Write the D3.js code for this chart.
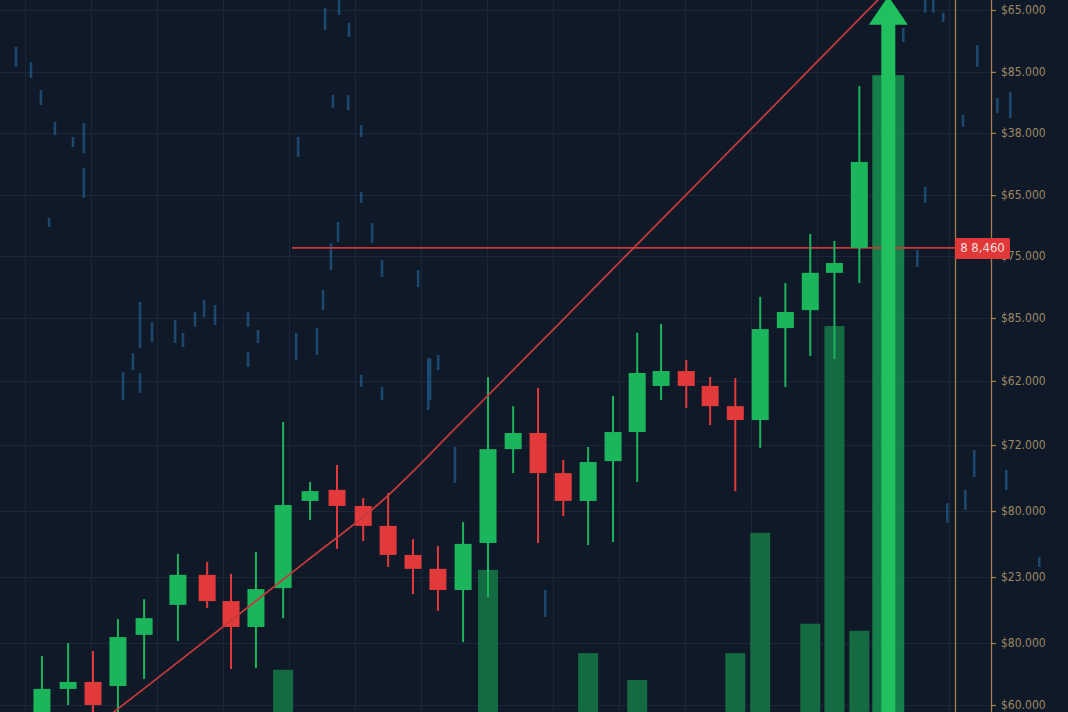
<!DOCTYPE html>
<html><head><meta charset="utf-8">
<script src="https://cdn.jsdelivr.net/npm/d3@7"></script>
<style>html,body{margin:0;padding:0;background:#0f1929;overflow:hidden}</style>
</head><body><svg id="c" width="1068" height="712"></svg>
<script>
// ---- data ----
const candleTime = [-0.37,0.66,1.64,2.62,3.65,4.98,6.13,7.07,8.05,9.12,10.18,11.24,12.27,13.25,14.23,15.21,16.20,17.18,18.17,19.15,20.14,21.12,22.10,23.05,23.99,24.98,25.92,26.91,27.89,28.88,29.86,30.81,31.79];
const open  = [59650,60510,60730,60600,62220,63170,64120,63290,62470,63700,66460,66810,66300,65670,64750,64310,63640,65130,68100,68610,67340,66460,67720,68640,70100,70570,70100,69460,69020,71930,72500,73680,74470];
const high  = [61550,61960,61710,62720,63350,64780,64530,64150,64840,68960,67060,67600,66550,66710,65250,65030,65790,70380,69460,70040,67760,68170,69780,71780,72060,70920,70380,70350,72920,73360,74910,74690,79590];
const low   = [59460,60000,59720,59720,60820,62030,63070,61140,61170,62750,65860,64940,65190,64370,63510,62980,61990,63420,67340,65130,65980,65060,65160,67060,69650,69400,68860,66770,68140,70070,71050,70950,73360];
const close = [60510,60730,60000,62150,62750,64120,63290,62470,63670,66330,66770,66300,65670,64750,64310,63640,65100,68100,68610,67340,66460,67690,68640,70510,70570,70100,69460,69020,71900,72440,73680,73990,77190];
const volume = [0,0,0,0,0,0,0,0,0,66,0,0,0,0,0,0,0,222,0,0,0,92,0,50,0,0,0,92,280,0,138,603,127];

const breakoutTime = 32.93;
const breakoutVolume = 995;
const breakoutArrowTop = 82440;
const breakoutHeadBase = 81530;

const trendTime  = [2,4,8,10,13,16,20,24,28,32,33];
const trendPrice = [59490,60740,63260,64530,66450,68840,72090,75360,78620,81890,82710];

const resistancePrice = 74470;
const resistanceStart = 9.47;
const resistanceLabel = "8 8,460";

const tickValues = [82000,80040,78110,76140,74210,72250,70260,68230,66140,64050,61960,60000];
const tickLabels = ["$65.000","$85.000","$38.000","$65.000","$75.000","$85.000","$62.000","$72.000","$80.000","$23.000","$80.000","$60.000"];

// faint background marks: [time, high, low]
const ghostTime = [-1.39,-0.80,-0.41,0.14,0.85,1.28,1.28,-0.09,10.77,11.32,11.71,11.08,11.68,12.19,9.71,12.19,11.28,12.62,11.00,13.01,14.43,10.69,3.49,3.96,4.87,5.18,5.65,6.01,6.44,7.74,8.13,7.74,9.63,10.45,3.21,3.49,2.82,14.90,15.22,12.19,13.01,34.38,34.70,35.09,33.52,34.38,34.07,36.43,37.73,37.22,35.87,14.83,15.88,19.43,35.25,35.96,36.31,37.57,38.87];
const ghostHigh = [80830,80350,79470,78460,77980,78420,77000,75420,82060,82320,81590,79310,79310,78360,77980,76240,75290,75260,74620,74090,73770,73140,72760,72120,72190,71780,72440,72820,72660,72440,71870,71170,71780,71930,71140,70510,70540,70980,71080,70450,70070,82320,82320,81910,81430,76400,74400,80890,79400,79210,78680,70980,68170,63640,66390,66810,68070,67440,64680];
const ghostLow  = [80200,79850,78990,78040,77660,77470,76050,75130,81370,81840,81150,78900,78830,77980,77350,75890,74660,74620,73770,73550,73230,72500,71300,71490,71460,71330,71970,72280,72030,71970,71460,70700,70920,71080,70600,69880,69650,69650,70600,70070,69650,81910,81910,81620,80990,75890,73860,80200,78580,78740,78300,69340,67030,62790,65760,66170,67220,66810,64370];

// ---- layout ----
const W = 1068, H = 712;
const axisX1 = 955, axisX2 = 991;
const svg = d3.select("#c");
const x = d3.scaleLinear().domain([-2.02, 40]).range([0, W]);
const y = d3.scaleLinear().domain([60000, 82000]).range([705, 10]);
const yVol = d3.scaleLinear().domain([0, 1000]).range([H, 72]);

const GREEN = "#1bb65c", RED = "#e23a3a", VOL = "#167544";
const FONT = "'DejaVu Sans Condensed','DejaVu Sans',sans-serif";

const defs = svg.append("defs");
defs.append("filter").attr("id", "soft").append("feGaussianBlur").attr("stdDeviation", 0.7);

svg.append("rect").attr("width", W).attr("height", H).attr("fill", "#0f1928");

// grid
const grid = svg.append("g").attr("stroke", "#192739").attr("stroke-width", 1);
grid.selectAll("line.h").data(tickValues).join("line")
  .attr("x1", 0).attr("x2", axisX2).attr("y1", d => Math.round(y(d)) + 0.5).attr("y2", d => Math.round(y(d)) + 0.5);
grid.selectAll("line.v").data(d3.range(25, axisX1, 66)).join("line")
  .attr("x1", d => d + 0.5).attr("x2", d => d + 0.5).attr("y1", 0).attr("y2", H);

// ghost marks
svg.append("g").attr("stroke", "#2a6fa6").attr("stroke-width", 2.6).attr("opacity", 0.55).attr("filter", "url(#soft)")
  .selectAll("line").data(ghostTime.map((t, i) => ({t, h: ghostHigh[i], l: ghostLow[i]}))).join("line")
  .attr("x1", d => x(d.t)).attr("x2", d => x(d.t)).attr("y1", d => y(d.h)).attr("y2", d => y(d.l));

// candles data
const candles = candleTime.map((t, i) => ({t, o: open[i], h: high[i], l: low[i], c: close[i], v: volume[i]}));

// volume bars
const vw = 20;
svg.append("g").selectAll("rect").data(candles.filter(d => d.v > 0)).join("rect")
  .attr("x", d => x(d.t) - vw / 2).attr("width", vw)
  .attr("y", d => yVol(d.v)).attr("height", d => yVol(0) - yVol(d.v))
  .attr("fill", VOL).attr("opacity", 0.88);
const bw = 32;
svg.append("rect").attr("x", x(breakoutTime) - bw / 2).attr("width", bw)
  .attr("y", yVol(breakoutVolume)).attr("height", yVol(0) - yVol(breakoutVolume))
  .attr("fill", "#178a4c").attr("opacity", 0.9);

// resistance line
svg.append("line").attr("x1", x(resistanceStart)).attr("x2", axisX1)
  .attr("y1", y(resistancePrice)).attr("y2", y(resistancePrice))
  .attr("stroke", "#c9383a").attr("stroke-width", 1.6);

// candles
const cg = svg.append("g");
const cw = 17;
cg.selectAll("line").data(candles).join("line")
  .attr("x1", d => x(d.t)).attr("x2", d => x(d.t))
  .attr("y1", d => y(d.h)).attr("y2", d => y(d.l))
  .attr("stroke", d => d.c >= d.o ? GREEN : RED).attr("stroke-width", 2);
cg.selectAll("rect").data(candles).join("rect")
  .attr("x", d => x(d.t) - cw / 2).attr("width", cw)
  .attr("y", d => y(Math.max(d.o, d.c)))
  .attr("height", d => Math.max(2, Math.abs(y(d.o) - y(d.c))))
  .attr("fill", d => d.c >= d.o ? GREEN : RED);

// trend line
const trend = trendTime.map((t, i) => ({t, p: trendPrice[i]}));
svg.append("path").datum(trend)
  .attr("d", d3.line().x(d => x(d.t)).y(d => y(d.p)).curve(d3.curveMonotoneX))
  .attr("fill", "none").attr("stroke", "#c23a3c").attr("stroke-width", 1.8);

// breakout arrow
const ax = x(breakoutTime), sh = 7, hh = 19.5;
const yb = y(breakoutHeadBase), yt = y(breakoutArrowTop), y0 = yVol(0);
svg.append("path")
  .attr("d", `M${ax - sh},${y0} L${ax - sh},${yb} L${ax - hh},${yb} L${ax},${yt} L${ax + hh},${yb} L${ax + sh},${yb} L${ax + sh},${y0} Z`)
  .attr("fill", "#20c05e");

// axis lines
const AX = "#a47e4d";
svg.append("line").attr("x1", axisX1 + 0.5).attr("x2", axisX1 + 0.5).attr("y1", 0).attr("y2", H).attr("stroke", AX).attr("stroke-width", 1.3);
const axis = d3.axisRight(y).tickValues(tickValues).tickFormat((d, i) => tickLabels[i]).tickSize(5).tickPadding(5);
const ag = svg.append("g").attr("transform", `translate(${axisX2},0)`).call(axis);
ag.select(".domain").remove();
ag.selectAll(".tick line").attr("stroke", AX).attr("stroke-width", 1.3);
ag.selectAll(".tick text").attr("fill", "#9d8866")
  .style("font-family", FONT).style("font-stretch", "condensed")
  .style("font-size", "12px");
svg.append("line").attr("x1", axisX2 + 0.5).attr("x2", axisX2 + 0.5).attr("y1", 0).attr("y2", H).attr("stroke", AX).attr("stroke-width", 1.3);

// price label
const ly = y(resistancePrice);
svg.append("rect").attr("x", axisX1).attr("y", ly - 10).attr("width", 55).attr("height", 21).attr("rx", 1.5).attr("fill", "#e03838");
svg.append("text").attr("x", axisX1 + 27.5).attr("y", ly + 0.5).attr("text-anchor", "middle").attr("dominant-baseline", "middle")
  .attr("fill", "#f5dede").style("font-family", FONT).style("font-stretch", "condensed").style("font-size", "13px")
  .text(resistanceLabel);
</script></body></html>
